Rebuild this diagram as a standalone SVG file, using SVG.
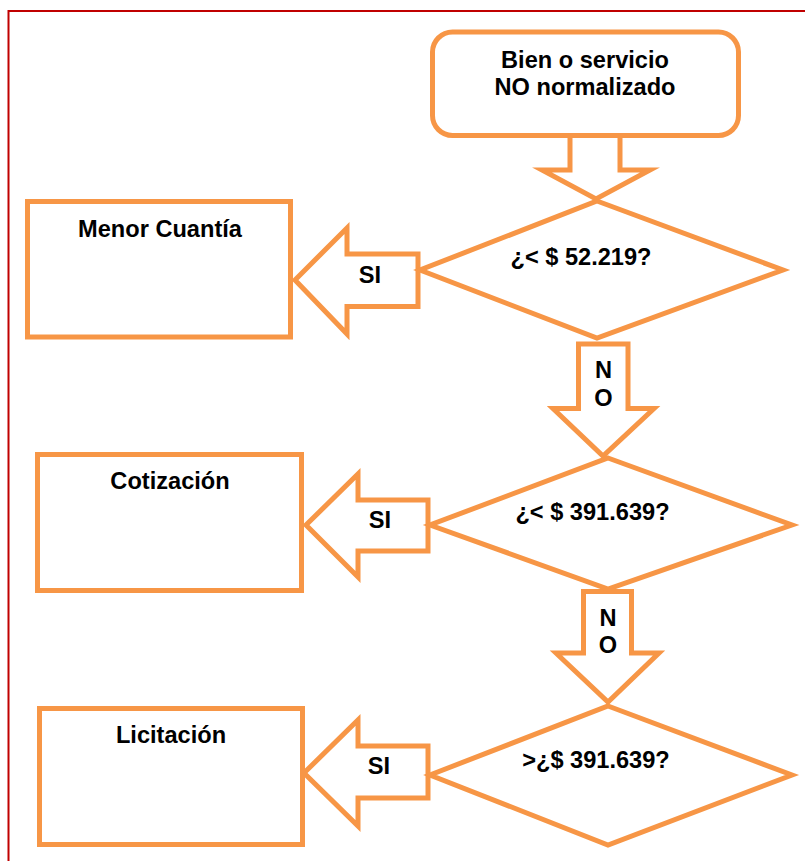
<svg xmlns="http://www.w3.org/2000/svg" width="805" height="861" viewBox="0 0 805 861">
  <style>
    .shape { fill: #ffffff; stroke: #F79646; stroke-width: 5; stroke-linejoin: miter; stroke-miterlimit: 10; }
    .lbl { font-family: "Liberation Sans", Arial, sans-serif; font-weight: bold; font-size: 23.6px; fill: #000000; text-anchor: middle; }
    .frame { fill: none; stroke: #C00000; stroke-width: 2; }
  </style>
  <rect x="0" y="0" width="805" height="861" fill="#ffffff"/>
  <!-- page frame -->
  <path class="frame" d="M8.5,861 V11 H805"/>

  <!-- connectors -->
  <g id="connectors">
    <polygon class="shape" points="570,130 570,170 542,170 596,199 650,170 620,170 620,130"/>
    <polygon class="shape" points="578.5,344 578.5,408.5 553,408.5 603,456 654,408.5 628,408.5 628,344"/>
    <polygon class="shape" points="583.5,591.5 583.5,653 556,653 608,702 659,653 631.5,653 631.5,591.5"/>
    <polygon class="shape" points="418,254 347,254 347,228 295,280 347,334 347,306.5 418,306.5"/>
    <polygon class="shape" points="428,500 358,500 358,474 306,525 358,577 358,551 428,551"/>
    <polygon class="shape" points="428,746 358,746 358,720 304,773 358,826 358,798 428,798"/>
    <text class="lbl" x="370" y="283">SI</text>
    <text class="lbl" x="380" y="528">SI</text>
    <text class="lbl" x="379" y="774">SI</text>
    <text class="lbl" x="603.5" y="378">N</text>
    <text class="lbl" x="603.5" y="406">O</text>
    <text class="lbl" x="608" y="626">N</text>
    <text class="lbl" x="608" y="653">O</text>
  </g>

  <g id="start">
    <rect class="shape" x="432.5" y="32" width="306" height="103.5" rx="20" ry="20"/>
    <text class="lbl" x="585" y="68">Bien o servicio</text>
    <text class="lbl" x="585" y="95">NO normalizado</text>
  </g>

  <g id="decision1">
    <polygon class="shape" points="597,201 783,270 597,338 420,270"/>
    <text class="lbl" x="581" y="265">¿&lt; $ 52.219?</text>
  </g>

  <g id="decision2">
    <polygon class="shape" points="608,458 792,525 608,589 430,525"/>
    <text class="lbl" x="592.5" y="520">¿&lt; $ 391.639?</text>
  </g>

  <g id="decision3">
    <polygon class="shape" points="608,706 792,775 608,845 430,775"/>
    <text class="lbl" x="596" y="768">&gt;¿$ 391.639?</text>
  </g>

  <g id="menor-cuantia">
    <rect class="shape" x="27.5" y="201.5" width="263" height="135.5"/>
    <text class="lbl" x="160" y="237">Menor Cuantía</text>
  </g>

  <g id="cotizacion">
    <rect class="shape" x="37.5" y="454.5" width="264" height="136"/>
    <text class="lbl" x="170" y="489">Cotización</text>
  </g>

  <g id="licitacion">
    <rect class="shape" x="39.5" y="708.5" width="263" height="136"/>
    <text class="lbl" x="171" y="743">Licitación</text>
  </g>
</svg>
